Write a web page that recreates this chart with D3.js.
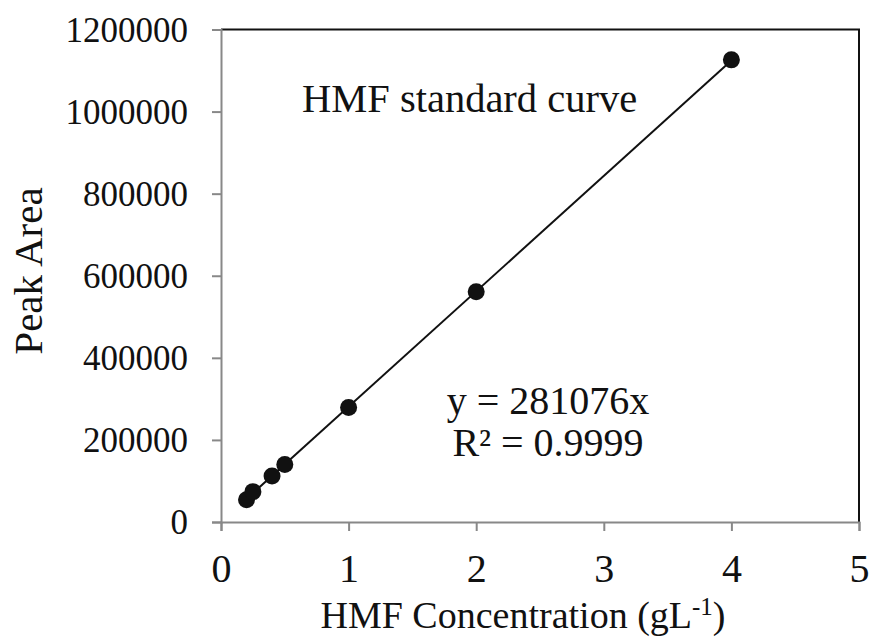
<!DOCTYPE html>
<html><head><meta charset="utf-8">
<script src="https://cdn.jsdelivr.net/npm/d3@7"></script>
<style>
html,body{margin:0;padding:0;background:#fff;}
svg{display:block;font-family:"Liberation Serif","Times New Roman",serif;}
</style></head>
<body>
<svg id="chart" width="870" height="640"></svg>
<script>
const concentration = [0.2, 0.25, 0.4, 0.5, 1, 2, 4];
const peakArea = [54000, 74000, 112000, 140000, 279000, 561000, 1126000];
const slope = 281076;
const xTicks = [0, 1, 2, 3, 4, 5];
const yTicks = [0, 200000, 400000, 600000, 800000, 1000000, 1200000];

const svg = d3.select("#chart");
const L = 221, R = 859, T = 29.5, B = 522;
const x = d3.scaleLinear().domain([0, 5]).range([L, R]);
const y = d3.scaleLinear().domain([0, 1200000]).range([B, T]);

svg.append("path").attr("d", `M${L},${T}H${R}V${B}`).attr("fill","none").attr("stroke","#111").attr("stroke-width",2);

const xAxis = svg.append("g").attr("transform",`translate(0,${B})`)
  .call(d3.axisBottom(x).tickValues(xTicks).tickFormat(d3.format("d")).tickSize(9).tickPadding(12));
const yAxis = svg.append("g").attr("transform",`translate(${L},0)`)
  .call(d3.axisLeft(y).tickValues(yTicks).tickFormat(d3.format("d")).tickSize(9).tickPadding(24));
[xAxis, yAxis].forEach(a => {
  a.select(".domain").attr("stroke","#888").attr("stroke-width",2);
  a.selectAll(".tick line").attr("stroke","#888").attr("stroke-width",2);
  a.selectAll(".tick text").attr("font-family","Liberation Serif").attr("fill","#111");
});
yAxis.selectAll(".tick text").attr("font-size",35).attr("dy","0.34em");
xAxis.selectAll(".tick text").attr("font-size",40).attr("y",60).attr("dy",0);

const xr = d3.extent(concentration);
svg.append("line")
  .attr("x1", x(xr[0])).attr("y1", y(slope*xr[0]))
  .attr("x2", x(xr[1])).attr("y2", y(slope*xr[1]))
  .attr("stroke","#111").attr("stroke-width",2);

svg.selectAll("circle.pt").data(concentration).enter().append("circle")
  .attr("class","pt")
  .attr("cx", d => x(d)).attr("cy", (d,i) => y(peakArea[i])).attr("r", 8.5).attr("fill","#111");

svg.append("text").attr("x",302).attr("y",112).attr("font-size",40.5).attr("fill","#111").text("HMF standard curve");
svg.append("text").attr("x",548).attr("y",414).attr("text-anchor","middle").attr("font-size",40).attr("fill","#111").text("y = 281076x");
svg.append("text").attr("x",548).attr("y",456).attr("text-anchor","middle").attr("font-size",40).attr("fill","#111").text("R² = 0.9999");

const xt = svg.append("text").attr("x",523).attr("y",628).attr("text-anchor","middle").attr("font-size",38).attr("fill","#111");
xt.append("tspan").text("HMF Concentration (gL");
xt.append("tspan").attr("font-size",25).attr("dy",-13).text("-1");
xt.append("tspan").attr("dy",13).text(")");

svg.append("text").attr("transform",`translate(42,271) rotate(-90)`).attr("text-anchor","middle").attr("font-size",41).attr("fill","#111").text("Peak Area");
</script>
</body></html>
